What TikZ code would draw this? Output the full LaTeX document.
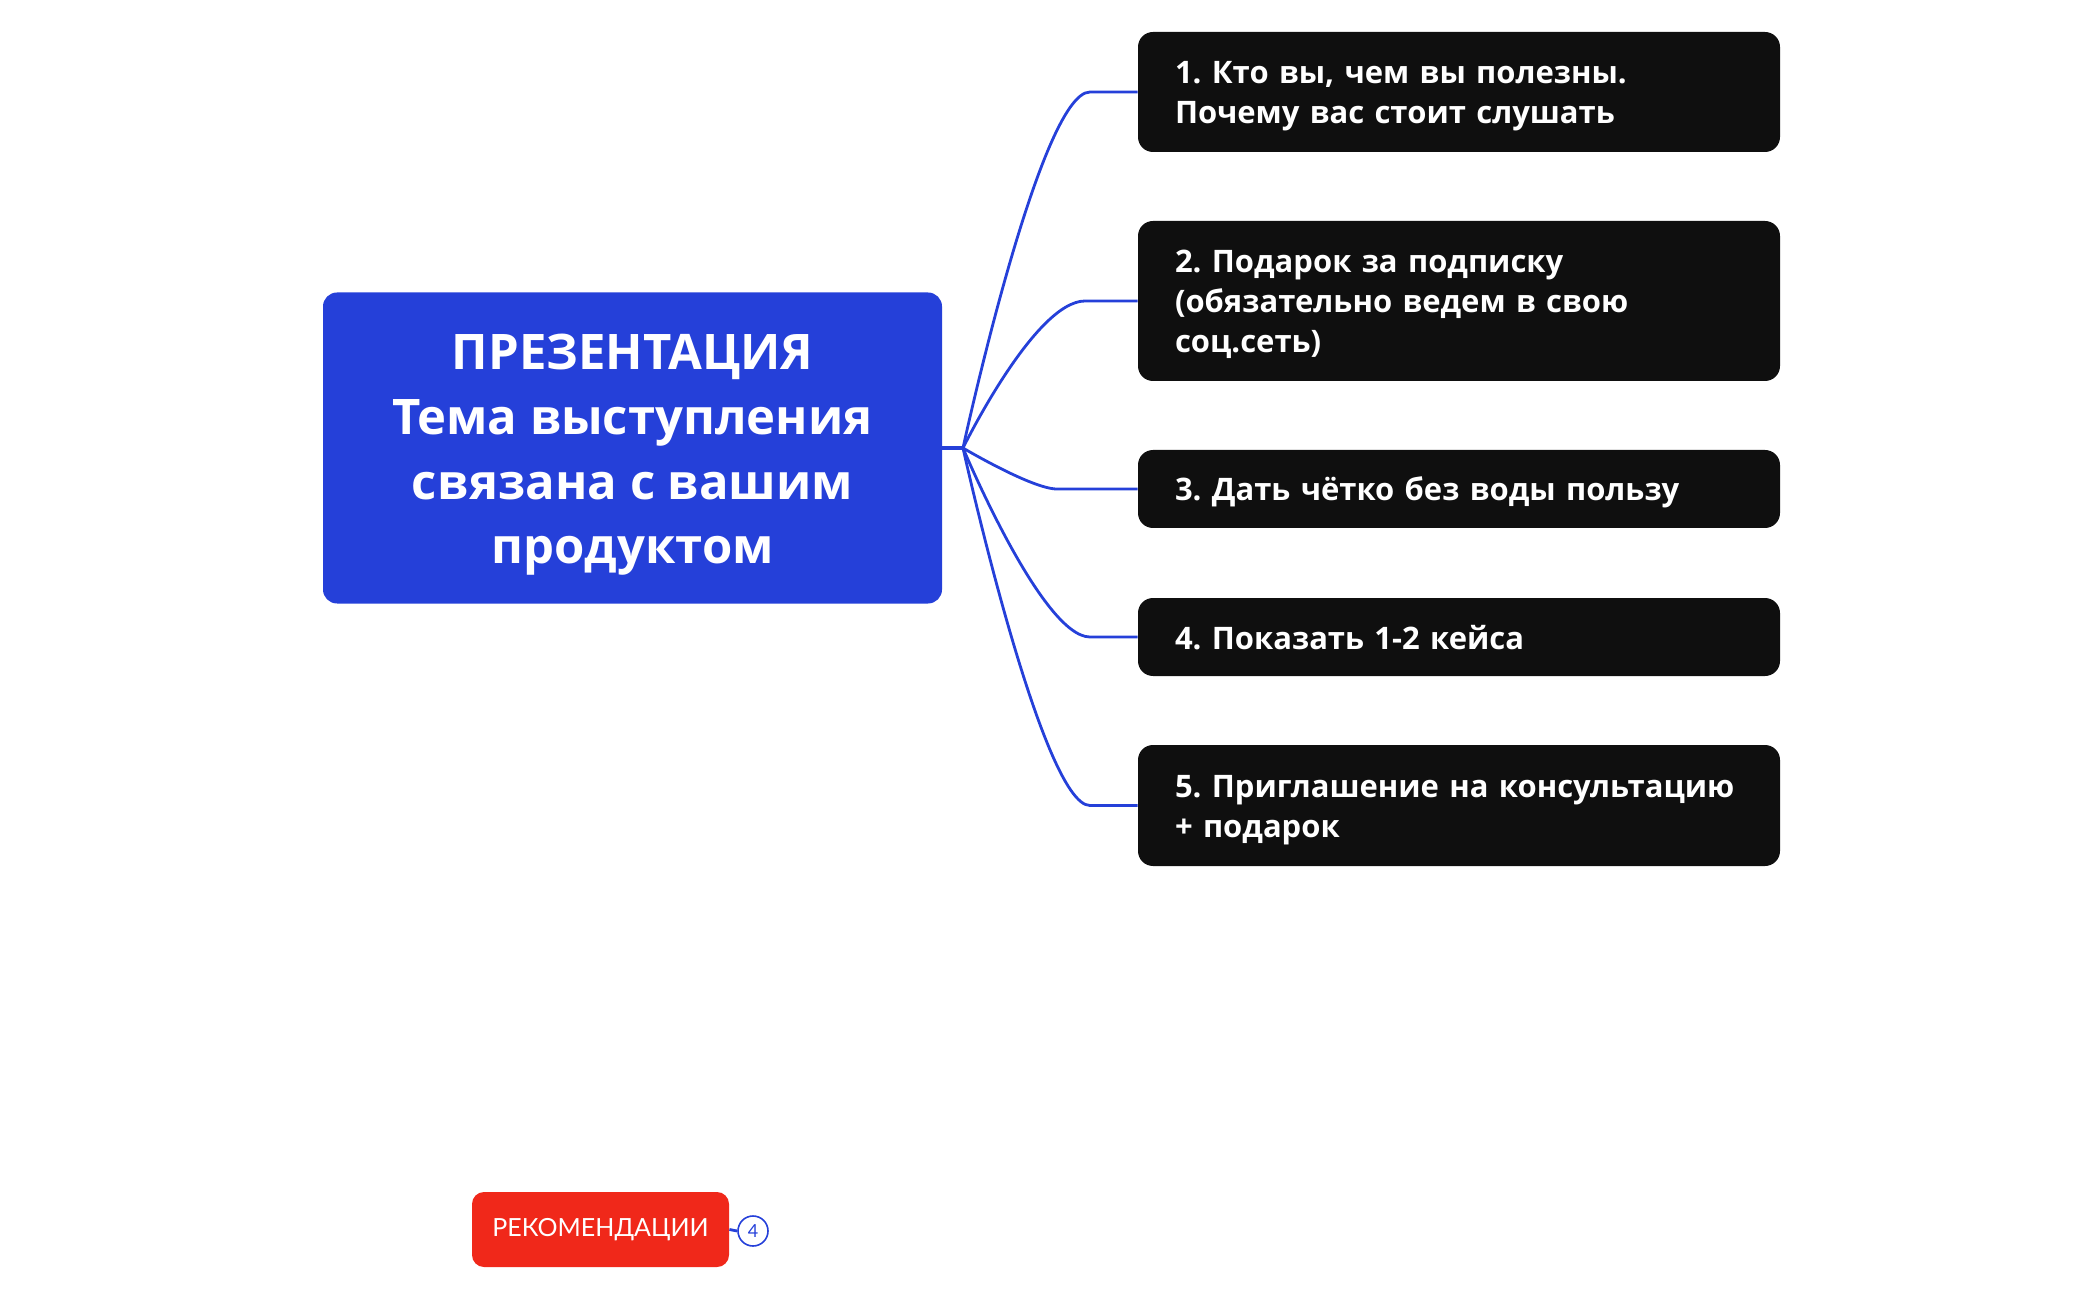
\documentclass[tikz,border=0pt]{standalone}
\usepackage{fontspec}
\setmainfont{Lato}
\newfontfamily\boxfont{Open Sans}
\frenchspacing
\definecolor{mapblue}{HTML}{2540D9}
\definecolor{mapblack}{HTML}{0F0F0F}
\definecolor{mapred}{HTML}{F0281A}
\begin{document}
\begin{tikzpicture}[x=0.5pt,y=-0.5pt,
        topic/.style={rectangle,rounded corners=7.5pt,fill=mapblack,text=white,minimum width=321pt,text width=284pt,inner xsep=18.5pt,inner ysep=0pt,align=left,font=\boxfont\fontsize{15.5}{20}\selectfont\bfseries,
            execute at begin node={\rule{0pt}{16pt}},execute at end node={\rule[-4pt]{0pt}{4pt}}},
        link/.style={mapblue,line width=1.4pt}]
        \useasboundingbox (0,0) rectangle (2100,1299);
        % central topic
        \node[rectangle,rounded corners=7pt,fill=mapblue,text=white,minimum width=309.5pt,minimum height=155.5pt,align=center,font=\boxfont\fontsize{24.5}{32.3}\selectfont\bfseries] (main) at (632.5,448) {\rule{0pt}{25.5pt}ПРЕЗЕНТАЦИЯ\\Тема выступления\\связана с вашим\\продуктом\rule[-6.8pt]{0pt}{6.8pt}};
        \coordinate (hub) at (963,448);
        \draw[mapblue,line width=2.4pt] (main.east) -- (hub);
        % branches
        \node[topic,minimum height=60pt] (b1) at (1459,92) {1. Кто вы, чем вы полезны.\\Почему вас стоит слушать};
        \node[topic,minimum height=80pt] (b2) at (1459,301) {2. Подарок за подписку\\(обязательно ведем в свою\\соц.сеть)};
        \node[topic,minimum height=39pt] (b3) at (1459,489) {3. Дать чётко без воды пользу};
        \node[topic,minimum height=39pt] (b4) at (1459,637) {4. Показать 1-2 кейса};
        \node[topic,minimum height=60.5pt] (b5) at (1459,805.5) {5. Приглашение на консультацию\\+ подарок};
        \foreach \i/\x/\c in {1/1090/1040,2/1085/1035,3/1057/1032,4/1090/1042,5/1090/1042}{
            \path (\x,0) coordinate (ex) (\c,0) coordinate (cx);
            \draw[link] (hub) .. controls (hub) and (cx |- b\i.west) .. (ex |- b\i.west) -- (b\i.west);
        }
        % recommendations
        \node[rectangle,rounded corners=6pt,fill=mapred,text=white,minimum width=128.5pt,minimum height=37.5pt,font=\fontsize{12.5}{15}\selectfont] (rec) at (600.5,1229.5) {РЕКОМЕНДАЦИИ};
        \node[circle,draw=mapblue,line width=0.8pt,text=mapblue,minimum size=15pt,inner sep=0pt,font=\fontsize{9}{10}\selectfont] (cnt) at (753,1231) {4};
        \draw[mapblue,line width=1.4pt] (rec.east) -- (cnt.west);
    \end{tikzpicture}
\end{document}
